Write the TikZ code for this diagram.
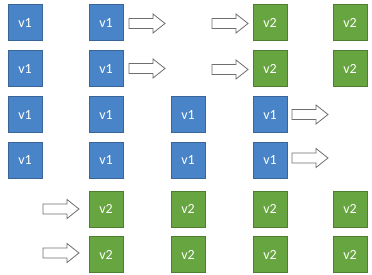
\documentclass[tikz,border=0pt]{standalone}
\usepackage{fontspec}
\setmainfont{Carlito}
\definecolor{bfill}{HTML}{4A84C8}
\definecolor{bline}{HTML}{3A6598}
\definecolor{gfill}{HTML}{66A53F}
\definecolor{gline}{HTML}{4E7F30}
\definecolor{aline}{HTML}{6E6E6E}
\begin{document}
\begin{tikzpicture}[x=1pt,y=-1pt,
  box/.style={minimum width=34pt,minimum height=36pt,inner sep=0pt,line width=0.8pt,
    text=white,font=\fontsize{14}{14}\selectfont},
  vone/.style={box,fill=bfill,draw=bline},
  vtwo/.style={box,fill=gfill,draw=gline},
  blockarrow/.pic={\draw[aline,fill=white,line width=0.8pt,line join=miter]
    (0,-5)--(24,-5)--(24,-9.5)--(36,0)--(24,9.5)--(24,5)--(0,5)--cycle;}]
\useasboundingbox (0,0) rectangle (372,275);
% columns 25,106,188,270,350 ; rows 22.5,68.5,114.5,160,209,254.5
\node[vone] (a11) at (25,22.5) {v1};
\node[vone] (a12) at (106,22.5) {v1};
\node[vtwo] (a14) at (270,22.5) {v2};
\node[vtwo] (a15) at (350,22.5) {v2};
\pic at (129,23.5) {blockarrow};
\pic at (212,23.5) {blockarrow};
\node[vone] (a21) at (25,68.5) {v1};
\node[vone] (a22) at (106,68.5) {v1};
\node[vtwo] (a24) at (270,68.5) {v2};
\node[vtwo] (a25) at (350,68.5) {v2};
\pic at (129,68.5) {blockarrow};
\pic at (212,69.5) {blockarrow};
\node[vone] (a31) at (25,114.5) {v1};
\node[vone] (a32) at (106,114.5) {v1};
\node[vone] (a33) at (188,114.5) {v1};
\node[vone] (a34) at (270,114.5) {v1};
\pic at (292,114.5) {blockarrow};
\node[vone] (a41) at (25,160) {v1};
\node[vone] (a42) at (106,160) {v1};
\node[vone] (a43) at (188,160) {v1};
\node[vone] (a44) at (270,160) {v1};
\pic at (292,158) {blockarrow};
\pic at (43,209) {blockarrow};
\node[vtwo] (a52) at (106,209) {v2};
\node[vtwo] (a53) at (188,209) {v2};
\node[vtwo] (a54) at (270,209) {v2};
\node[vtwo] (a55) at (350,209) {v2};
\pic at (43,253) {blockarrow};
\node[vtwo] (a62) at (106,254.5) {v2};
\node[vtwo] (a63) at (188,254.5) {v2};
\node[vtwo] (a64) at (270,254.5) {v2};
\node[vtwo] (a65) at (350,254.5) {v2};
\end{tikzpicture}
\end{document}
